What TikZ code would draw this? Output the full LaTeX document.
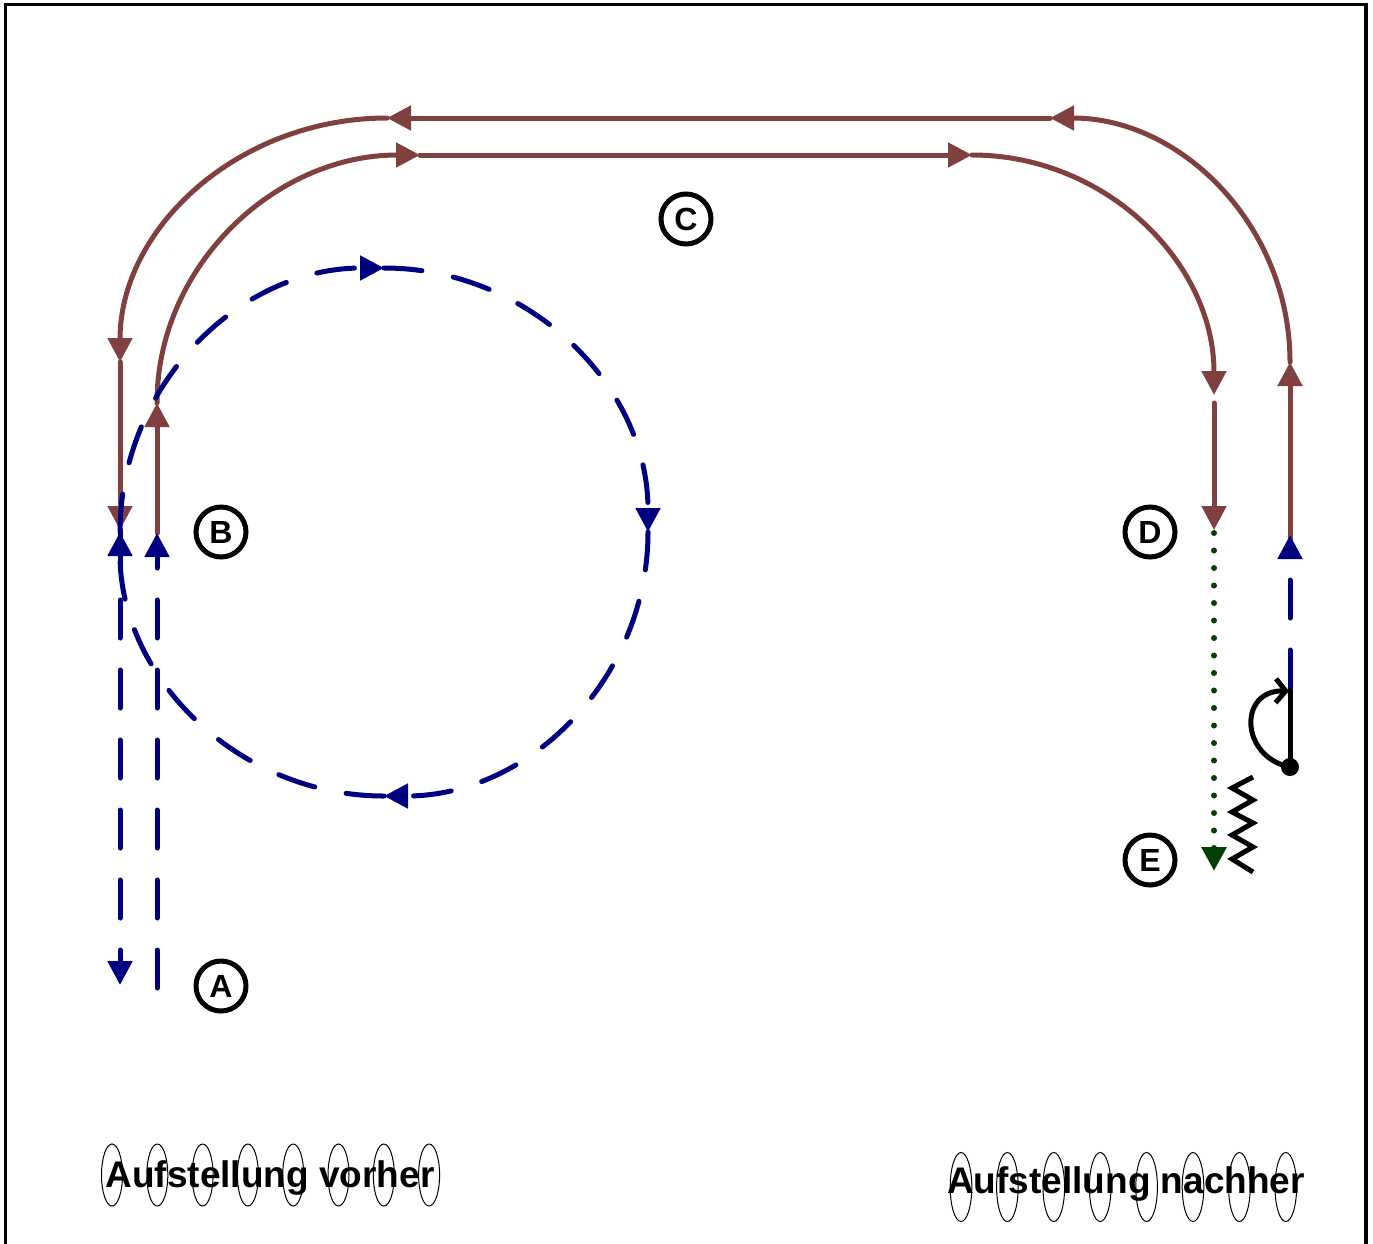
\documentclass[tikz,border=0pt]{standalone}
\usepackage{fontspec}
\setmainfont{Liberation Sans}
\usetikzlibrary{arrows.meta}
\definecolor{pathbrown}{RGB}{128,64,64}
\definecolor{pathblue}{RGB}{0,0,128}
\definecolor{pathgreen}{RGB}{0,64,0}
\begin{document}
\begin{tikzpicture}[x=1pt,y=1pt,
  tri/.tip={Triangle[length=24pt,width=24pt]},
  brownline/.style={draw=pathbrown, line width=5pt, line cap=round, -tri},
  bluedash/.style={draw=pathblue, line width=5pt, line cap=round, dash pattern=on 38pt off 32pt, -tri},
  greendot/.style={draw=pathgreen, line width=6pt, line cap=round, dash pattern=on 0pt off 17.5pt, -tri},
  lblcircle/.style={draw, circle, line width=5pt, minimum size=50pt, inner sep=0pt, font=\fontsize{32}{34}\selectfont\bfseries},
  player/.style={draw, line width=1pt},
  caption/.style={anchor=base, inner sep=0pt, font=\fontsize{37}{40}\selectfont\bfseries},
  blackline/.style={draw=black, line width=5pt, line cap=round}
]
\useasboundingbox (0,0) rectangle (1373,-1243);
% frame
\draw[line width=3.5pt] (5.5,-1260) -- (5.5,-4.5) -- (1366,-4.5) -- (1366,-1260);

% coordinates
\coordinate (r1) at (1290,-540);
\coordinate (r2) at (1290,-362);
\coordinate (t1) at (1050,-118);
\coordinate (t2) at (387,-118);
\coordinate (l1) at (120,-362);
\coordinate (l2) at (120,-530);
\coordinate (i1) at (157,-533);
\coordinate (i2) at (157,-403);
\coordinate (u1) at (420,-155);
\coordinate (u2) at (972,-155);
\coordinate (d2) at (1214,-403);
\coordinate (d3) at (1214,-530);
\coordinate (g1) at (1214,-533);
\coordinate (g2) at (1214,-871);
\coordinate (cl) at (120,-532);
\coordinate (ab) at (120,-985);
\coordinate (bb) at (157,-988);
\coordinate (bt) at (157,-533);
\coordinate (rb) at (1290,-688);
\coordinate (rt) at (1290,-535);
\coordinate (sy1) at (1290,-767);
\coordinate (sy2) at (1290,-690);

% players
\foreach \k in {0,...,7}{
  \draw[player] ({112+45.3*\k},-1175) ellipse[x radius=10.5, y radius=31];
  \draw[player] ({961+46.4*\k},-1187) ellipse[x radius=10.8, y radius=34.5];
}
\node[caption] (capL) at (270,-1187) {Aufstellung vorher};
\node[caption] (capR) at (1126,-1193) {Aufstellung nachher};

% brown outer path
\draw[brownline] (r1) -- (r2);
\draw[brownline] (r2) arc[start angle=0, end angle=90, x radius=240, y radius=244];
\draw[brownline] (t1) -- (t2);
\draw[brownline] (t2) arc[start angle=90, end angle=180, x radius=267, y radius=244];
\draw[brownline] (l1) -- (l2);
% brown inner path
\draw[brownline] (i1) -- (i2);
\draw[brownline] (i2) arc[start angle=180, end angle=90, x radius=263, y radius=248];
\draw[brownline] (u1) -- (u2);
\draw[brownline] (u2) arc[start angle=90, end angle=0, x radius=242, y radius=240];
\draw[brownline] (d2) -- (d3);

% blue circle
\draw[bluedash] (cl) arc[start angle=180, end angle=90, radius=264];
\draw[bluedash] (384,-268) arc[start angle=90, end angle=0, radius=264];
\draw[bluedash] (648,-532) arc[start angle=0, end angle=-90, radius=264];
\draw[bluedash] (384,-796) arc[start angle=-90, end angle=-180, radius=264];
% blue straight lines
\draw[bluedash] (l2) -- (ab);
\draw[bluedash] (bb) -- (bt);
\draw[bluedash] (rb) -- (rt);

% green dotted
\draw[greendot] (g1) -- (g2);

% black symbol
\draw[blackline] (sy1) -- (sy2);
\fill (sy1) circle[radius=9];
\draw[blackline, -{Straight Barb[length=10pt,width=24pt]}] (sy1) .. controls (1240,-757) and (1238,-690) .. (1289,-691);
\draw[blackline, line cap=butt, line join=miter] (1253,-777) -- (1232,-788) -- (1253,-800) -- (1232,-812) -- (1253,-823) -- (1232,-835) -- (1253,-847) -- (1232,-859) -- (1253,-872);

% labels
\node[lblcircle] (C) at (686,-219) {C};
\node[lblcircle] (B) at (221,-532) {B};
\node[lblcircle] (D) at (1150,-532) {D};
\node[lblcircle] (E) at (1150,-860) {E};
\node[lblcircle] (A) at (221,-986) {A};
\end{tikzpicture}
\end{document}
